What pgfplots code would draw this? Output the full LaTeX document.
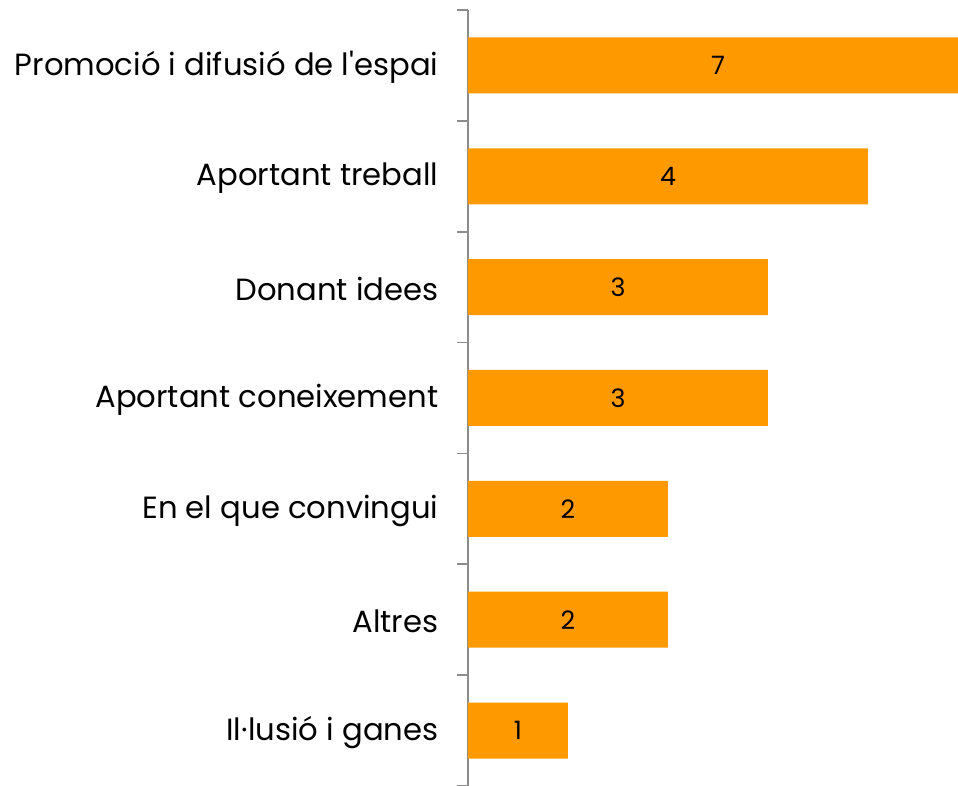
\documentclass[border=0pt]{standalone}
\usepackage{pgfplots}
\pgfplotsset{compat=1.18}
\usepackage{fontspec}
\setmainfont{Poppins}
\definecolor{barorange}{HTML}{FF9900}
\definecolor{axisgray}{HTML}{8C8C8C}
\begin{document}
\begin{tikzpicture}
\useasboundingbox (-351pt,0pt) rectangle (367.5pt,589.5pt);
\begin{axis}[
  at={(0pt,0pt)}, anchor=south west,
  scale only axis,
  width=367.5pt, height=582pt,
  xmin=0, xmax=4.9,
  ymin=-0.5, ymax=6.5,
  hide x axis,
  axis y line*=left,
  y axis line style={draw=axisgray, line width=1.2pt},
  ytick={0,...,6},
  yticklabels={Il·lusió i ganes, Altres, En el que convingui, Aportant coneixement, Donant idees, Aportant treball, Promoció i difusió de l\textquotesingle espai},
  major tick length=0pt,
  extra y ticks={-0.5,0.5,1.5,2.5,3.5,4.5,5.5,6.5},
  extra y tick labels={},
  extra y tick style={major tick length=8pt, tick align=outside, tick style={draw=axisgray, line width=1.2pt}},
  yticklabel style={inner sep=0pt, xshift=-22pt, yshift=-1.5pt, font=\fontsize{23}{28}\selectfont},
  every node near coord/.style={anchor=center, font=\fontsize{19}{23}\selectfont, black},
]
\addplot[xbar, bar width=42pt, fill=barorange, draw=none] coordinates {
  (1,0) (2,1) (2,2) (3,3) (3,4) (4,5) (7,6)
};
\addplot[draw=none, mark=none, nodes near coords, point meta=explicit symbolic] coordinates {
  (0.5,0)[1] (1,1)[2] (1,2)[2] (1.5,3)[3] (1.5,4)[3] (2,5)[4] (2.5,6)[7]
};
\end{axis}
\end{tikzpicture}
\end{document}
